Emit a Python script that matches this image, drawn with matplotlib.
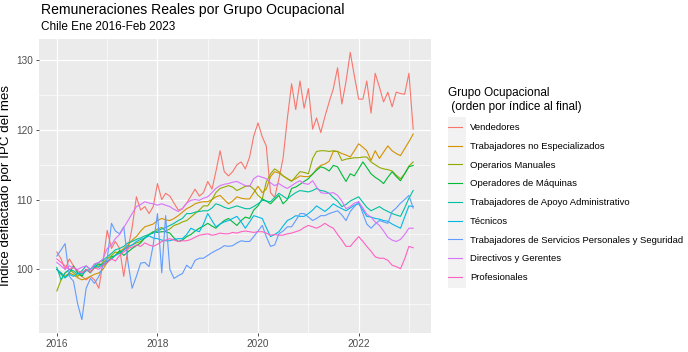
import matplotlib
matplotlib.use("Agg")
import matplotlib.pyplot as plt
import matplotlib.dates as mdates
from matplotlib.patches import Rectangle
import pandas as pd

plt.rcParams['font.family'] = ['Liberation Sans', 'DejaVu Sans']

# meses Ene 2016 - Feb 2023
fechas = pd.date_range("2016-01-01", periods=86, freq="MS")

grupos = [
    "Vendedores",
    "Trabajadores no Especializados",
    "Operarios Manuales",
    "Operadores de Máquinas",
    "Trabajadores de Apoyo Administrativo",
    "Técnicos",
    "Trabajadores de Servicios Personales y Seguridad",
    "Directivos y Gerentes",
    "Profesionales",
]

colores = ["#F8766D", "#D39200", "#93AA00", "#00BA38", "#00C19F",
           "#00B9E3", "#619CFF", "#DB72FB", "#FF61C3"]

vendedores = [
    102.5, 101.5, 100.0, 101.5, 100.5, 99.5, 99.0, 98.5, 99.0, 98.5, 97.3, 101.0,
    105.6, 103.0, 104.0, 103.0, 99.0, 103.0, 106.0, 110.4, 108.5, 109.0, 108.0, 109.0,
    112.3, 110.0, 110.9, 110.5, 109.5, 108.5, 108.7, 109.5, 110.5, 111.5, 110.5, 111.0,
    112.6, 111.5, 114.0, 117.0, 114.0, 113.4, 114.0, 115.0, 115.4, 114.4, 116.1, 119.1,
    121.0, 119.0, 117.7, 111.0, 110.3, 113.0, 115.9, 121.6, 126.6, 122.9, 127.0, 123.1,
    125.9, 120.1, 121.7, 119.6, 121.9, 124.0, 125.9, 128.9, 123.7, 126.9, 131.1, 127.7,
    124.4, 124.4, 127.0, 122.4, 128.1, 126.1, 124.0, 125.4, 123.3, 125.4, 125.2, 125.1,
    128.1, 120.1,
]

no_especializados = [
    100.0, 99.5, 99.0, 99.5, 99.2, 98.8, 98.5, 98.7, 99.0, 99.3, 99.5, 100.0,
    101.0, 101.5, 102.0, 102.5, 103.0, 103.5, 104.2, 104.7, 105.5, 106.1, 106.3, 106.5,
    107.0, 107.3, 107.1, 107.0, 107.3, 107.7, 108.2, 108.7, 109.0, 109.4, 109.6, 109.7,
    109.7, 110.0, 110.4, 110.6, 110.0, 109.4, 109.8, 110.4, 110.2, 110.1, 110.1, 111.0,
    111.9, 111.0, 111.5, 113.3, 114.0, 113.8, 113.4, 113.0, 112.7, 113.0, 113.4, 113.3,
    113.3, 113.6, 114.4, 114.9, 115.1, 115.5, 116.9, 116.9, 116.6, 116.4, 116.1, 117.0,
    118.0, 117.5, 117.0, 115.6, 117.0, 115.9, 116.8, 117.7, 117.0, 116.6, 116.3, 117.3,
    118.3, 119.4,
]

operarios = [
    96.9, 98.5, 99.5, 100.0, 99.5, 99.0, 99.5, 100.0, 99.7, 100.2, 100.5, 101.0,
    101.5, 102.0, 102.5, 102.3, 102.8, 103.2, 103.5, 103.8, 104.0, 104.5, 105.0, 105.3,
    105.8, 106.0, 105.5, 105.8, 106.3, 106.5, 106.8, 107.0, 107.5, 108.0, 108.5, 109.1,
    109.1, 110.0, 111.0, 111.6, 111.8, 112.0, 111.8, 111.3, 111.6, 111.9, 112.0, 111.5,
    110.6, 110.1, 112.5, 113.7, 114.4, 114.0, 113.4, 113.0, 112.6, 113.3, 114.0, 113.9,
    113.7, 115.9, 116.9, 117.0, 117.0, 116.9, 117.0, 116.9, 115.6, 115.8, 115.9, 116.0,
    116.0, 116.1, 116.1, 115.4, 115.0, 114.6, 114.4, 114.3, 114.1, 113.5, 113.0, 113.7,
    114.8, 115.4,
]

operadores = [
    100.0, 99.3, 98.8, 99.5, 100.5, 99.5, 99.0, 100.0, 99.5, 100.3, 100.8, 100.5,
    101.0, 101.8, 102.0, 102.7, 102.0, 102.5, 103.0, 103.4, 103.8, 104.5, 105.0, 105.4,
    105.3, 105.4, 105.4, 105.2, 104.5, 104.0, 104.2, 104.7, 105.0, 105.5, 105.9, 106.2,
    106.6, 106.2, 105.9, 106.5, 107.0, 107.3, 106.8, 106.3, 107.0, 107.5, 107.3, 108.5,
    109.1, 110.1, 109.8, 109.4, 110.0, 110.6, 109.4, 110.0, 111.6, 111.8, 112.2, 112.6,
    113.0, 113.7, 114.2, 114.7, 114.5, 114.1, 114.9, 114.7, 113.6, 112.6, 113.7, 113.4,
    114.4, 115.4, 114.6, 113.7, 113.2, 112.8, 112.3, 113.2, 114.0, 113.3, 112.7, 113.7,
    114.7, 114.9,
]

apoyo_admin = [
    100.3, 98.5, 99.5, 100.0, 99.8, 99.3, 99.8, 100.5, 100.0, 100.6, 101.0, 101.3,
    101.8, 102.3, 102.8, 103.0, 103.3, 103.8, 104.0, 104.3, 104.5, 104.8, 105.0, 105.2,
    105.5, 105.8, 106.0, 106.3, 106.6, 107.0, 107.3, 108.0, 108.0, 108.2, 108.3, 108.4,
    108.4, 108.8, 109.4, 109.2, 108.9, 108.7, 108.9, 109.1, 108.9, 108.7, 108.7, 109.0,
    109.4, 109.9, 109.8, 109.7, 110.3, 110.9, 110.5, 110.1, 110.6, 111.0, 111.3, 111.2,
    111.1, 111.3, 111.6, 111.3, 111.2, 110.9, 110.3, 109.8, 109.0, 109.3, 109.8, 110.1,
    110.4, 109.6, 108.9, 108.4, 108.7, 109.0, 108.6, 108.3, 108.0, 107.8, 107.6, 108.8,
    110.2, 111.3,
]

tecnicos = [
    100.0, 99.5, 98.8, 99.3, 99.0, 99.5, 99.3, 99.8, 100.0, 100.5, 100.3, 100.8,
    101.2, 101.5, 102.0, 102.3, 102.8, 103.3, 103.5, 104.0, 104.3, 104.5, 104.8, 104.5,
    104.4, 104.2, 104.1, 104.1, 104.3, 104.4, 104.4, 105.0, 105.9, 105.6, 105.4, 106.5,
    108.0, 107.0, 106.1, 106.5, 106.8, 107.0, 107.3, 107.6, 106.8, 105.9, 106.8, 107.7,
    107.5, 107.3, 106.0, 104.7, 105.0, 105.4, 106.2, 107.0, 107.3, 107.7, 107.6, 107.6,
    108.0, 108.5, 109.1, 108.7, 108.3, 108.8, 109.4, 109.0, 108.7, 108.4, 108.8, 109.2,
    109.4, 108.5, 107.6, 107.5, 107.3, 107.2, 107.0, 106.9, 106.5, 106.2, 105.9, 107.5,
    109.1, 109.0,
]

servicios = [
    101.9, 102.8, 103.7, 99.0, 98.3, 95.0, 92.8, 97.3, 98.7, 98.0, 99.0, 100.5,
    101.5, 106.6, 105.5, 105.1, 106.1, 101.0, 97.3, 99.0, 100.9, 101.0, 100.4, 103.5,
    108.0, 99.5, 107.7, 100.0, 98.7, 99.1, 99.4, 100.6, 100.1, 101.3, 101.6, 101.6,
    102.0, 102.4, 102.7, 103.0, 103.4, 103.3, 103.4, 103.8, 104.1, 104.0, 104.0, 104.7,
    105.5, 106.3, 104.7, 103.3, 103.5, 105.1, 105.5, 106.1, 106.1, 107.0, 108.0, 108.0,
    107.5, 107.0, 107.3, 107.7, 107.7, 108.0, 108.2, 108.4, 107.8, 107.0, 108.3, 109.0,
    109.7, 108.0, 106.5, 105.9, 106.5, 107.0, 106.8, 106.6, 108.3, 108.8, 109.5, 110.0,
    110.6, 108.8,
]

directivos = [
    101.0, 100.5, 100.0, 100.5, 100.2, 100.0, 100.3, 100.5, 100.0, 100.8, 101.0, 101.5,
    103.0, 103.5, 104.4, 105.0, 106.0, 107.0, 108.0, 109.0, 109.3, 109.7, 109.5, 109.4,
    109.2, 109.4, 109.2, 109.0, 108.6, 108.3, 108.7, 109.5, 109.9, 110.0, 109.9, 110.2,
    110.4, 111.0, 111.6, 112.0, 112.2, 112.3, 112.5, 112.6, 112.3, 112.0, 111.9, 113.0,
    113.4, 113.2, 113.0, 112.4, 112.0, 112.3, 111.9, 111.6, 112.0, 112.4, 112.7, 112.3,
    112.2, 112.7, 111.8, 111.0, 110.9, 110.9, 111.0, 110.6, 109.8, 108.7, 109.0, 109.5,
    109.7, 108.8, 107.9, 107.5, 106.8, 106.3, 105.5, 104.6, 104.2, 104.0, 104.3, 105.0,
    105.9, 105.9,
]

profesionales = [
    101.5, 101.0, 100.5, 100.0, 100.3, 99.8, 99.5, 100.0, 99.6, 100.2, 100.0, 100.6,
    101.0, 101.5, 101.2, 102.0, 102.5, 103.0, 103.2, 103.5, 103.3, 103.8, 103.5, 103.3,
    103.6, 104.0, 104.2, 104.4, 104.2, 104.0, 104.1, 104.1, 104.3, 104.6, 104.9, 105.0,
    105.1, 104.9, 105.0, 105.2, 105.1, 105.1, 105.3, 105.2, 105.4, 105.5, 105.4, 105.3,
    105.4, 105.4, 105.2, 104.9, 105.0, 104.9, 104.9, 105.1, 105.2, 105.4, 105.6, 106.0,
    106.3, 106.1, 105.9, 106.2, 106.6, 106.2, 105.9, 105.0, 104.2, 103.3, 103.3, 104.0,
    104.7, 104.0, 103.3, 102.6, 101.8, 101.6, 101.6, 101.3, 100.6, 100.4, 100.1, 101.5,
    103.3, 103.1,
]

series = [vendedores, no_especializados, operarios, operadores, apoyo_admin,
          tecnicos, servicios, directivos, profesionales]

fig = plt.figure(figsize=(6.88, 3.52), dpi=100)
ax = fig.add_axes([39 / 688, 1 - 333 / 352, 392 / 688, 294 / 352])
ax.set_facecolor("#EBEBEB")

for nombre, valores, color in zip(grupos, series, colores):
    ax.plot(fechas, valores, color=color, lw=0.8, label=nombre)

ax.margins(x=0.05, y=0.05)
ax.set_yticks([100, 110, 120, 130])
ax.set_yticks([95, 105, 115, 125], minor=True)
ax.xaxis.set_major_locator(mdates.YearLocator(2))
ax.xaxis.set_minor_locator(mdates.YearLocator(1))
ax.xaxis.set_major_formatter(mdates.DateFormatter("%Y"))
ax.grid(which="major", color="white", lw=0.9)
ax.grid(which="minor", color="white", lw=0.45)
ax.set_axisbelow(True)
for s in ax.spines.values():
    s.set_visible(False)
ax.tick_params(which="major", length=2.5, width=0.6, color="#333333",
               labelsize=7.2, labelcolor="#4D4D4D", pad=2)
ax.tick_params(which="minor", length=0)
ax.set_ylabel("Indice deflactado por IPC del mes", fontsize=9.6)
ax.yaxis.set_label_coords(-27 / 392, 0.5)

fig.text(41 / 688, 1 - 10 / 352, "Remuneraciones Reales por Grupo Ocupacional",
         fontsize=10.1, va="center", ha="left")
fig.text(41 / 688, 1 - 27 / 352, "Chile Ene 2016-Feb 2023",
         fontsize=8.5, va="center", ha="left")

# fondo gris de las claves de la leyenda
fig.patches.append(Rectangle((448 / 688, 1 - 288 / 352), 18 / 688, 171 / 352,
                             transform=fig.transFigure, facecolor="#F2F2F2",
                             edgecolor="none", zorder=0))
leg = fig.legend(loc="upper left", bbox_to_anchor=(444 / 688, 1 - 83 / 352),
                 title="Grupo Ocupacional\n (orden por índice al final)",
                 fontsize=6.8, title_fontsize=8.5, frameon=False,
                 handlelength=1.5, handletextpad=0.85, labelspacing=1.03,
                 alignment="left", borderaxespad=0)
leg.get_title().set_linespacing(1.3)

fig.savefig("out.png", dpi=100)
